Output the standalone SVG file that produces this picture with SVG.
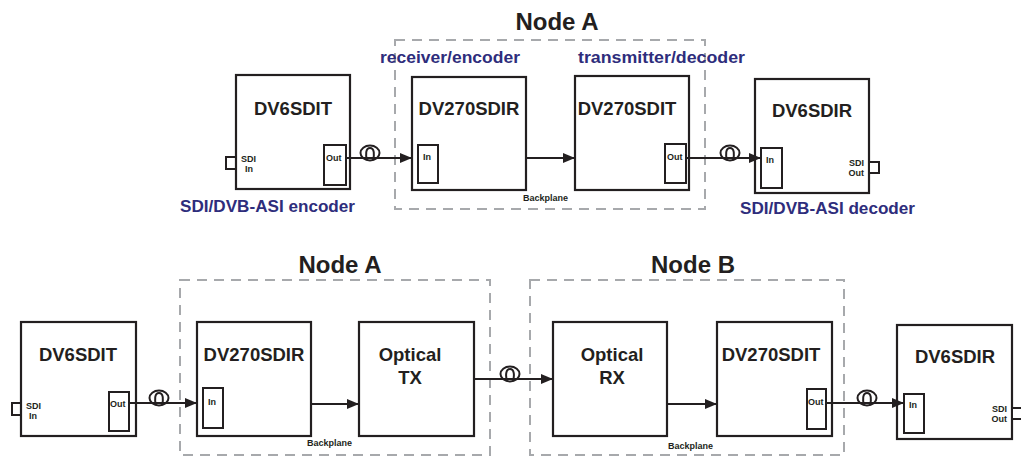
<svg xmlns="http://www.w3.org/2000/svg" width="1021" height="458" viewBox="0 0 1021 458">
<style>
.box{fill:#fff;stroke:#231f20;stroke-width:2.2}
.port{fill:#fff;stroke:#231f20;stroke-width:2}
.dash{fill:none;stroke:#a7a9ac;stroke-width:2;stroke-dasharray:10 7}
.ln{fill:none;stroke:#231f20;stroke-width:2.2}
.coil{fill:none;stroke:#231f20;stroke-width:2}
.t{font-family:"Liberation Sans",Arial,sans-serif;font-weight:bold;fill:#231f20}
.title{font-size:18.5px;text-anchor:middle}
.node{font-size:24px;text-anchor:middle}
.sm{font-size:9px}
.blue{font-family:"Liberation Sans",Arial,sans-serif;font-weight:bold;fill:#2e2d7c;font-size:17px}
</style>
<defs>
<marker id="ah" viewBox="0 0 12 10" refX="12" refY="5" markerWidth="12" markerHeight="10" markerUnits="userSpaceOnUse" orient="auto">
<path d="M0,0 L12,5 L0,10 Z" fill="#231f20"/>
</marker>
<g id="coilsym">
<ellipse class="coil" cx="0" cy="-6" rx="9.5" ry="7.5"/>
<path class="coil" d="M-3,1 C-4.5,-4 -4.5,-11 0,-11 C4.5,-11 4.5,-4 3,1"/>
</g>
</defs>

<!-- dashed groupings -->
<g id="groups">
<rect class="dash" x="395" y="40" width="310" height="169"/>
<rect class="dash" x="180" y="280" width="310" height="175"/>
<rect class="dash" x="530" y="280" width="314" height="175"/>
<text class="t node" x="557" y="30">Node A</text>
<text class="t node" x="340" y="273">Node A</text>
<text class="t node" x="693" y="273">Node B</text>
<text class="blue" x="380" y="63" textLength="140" lengthAdjust="spacingAndGlyphs">receiver/encoder</text>
<text class="blue" x="578" y="63" textLength="167" lengthAdjust="spacingAndGlyphs">transmitter/decoder</text>
<text class="blue" x="180" y="212" textLength="175" lengthAdjust="spacingAndGlyphs">SDI/DVB-ASI encoder</text>
<text class="blue" x="740" y="214" textLength="175" lengthAdjust="spacingAndGlyphs">SDI/DVB-ASI decoder</text>
</g>

<!-- top row -->
<g id="top-dv6sdit">
<rect class="port" x="226" y="157" width="10" height="12"/>
<rect class="box" x="236" y="75" width="114" height="114"/>
<text class="t title" x="293" y="115">DV6SDIT</text>
<text class="t sm" x="241" y="162">SDI</text>
<text class="t sm" x="245" y="172">In</text>
<rect class="port" x="324" y="145" width="22" height="40"/>
<text class="t sm" x="326" y="161">Out</text>
</g>
<g id="top-dv270sdir">
<rect class="box" x="412" y="77" width="114" height="113"/>
<text class="t title" x="469" y="115">DV270SDIR</text>
<rect class="port" x="418" y="145" width="20" height="38"/>
<text class="t sm" x="423" y="160">In</text>
</g>
<g id="top-dv270sdit">
<rect class="box" x="575" y="76" width="114" height="114"/>
<text class="t title" x="627" y="115">DV270SDIT</text>
<rect class="port" x="665" y="144" width="21" height="39"/>
<text class="t sm" x="667" y="160">Out</text>
</g>
<g id="top-dv6sdir">
<rect class="box" x="755" y="79" width="114" height="114"/>
<text class="t title" x="812" y="117">DV6SDIR</text>
<rect class="port" x="761" y="148" width="21" height="40"/>
<text class="t sm" x="766" y="163">In</text>
<text class="t sm" x="864" y="166" text-anchor="end">SDI</text>
<text class="t sm" x="864" y="176" text-anchor="end">Out</text>
<rect class="port" x="869" y="162" width="10" height="11"/>
</g>
<text class="t sm" x="523" y="201">Backplane</text>

<!-- bottom row -->
<g id="bot-dv6sdit">
<rect class="port" x="12" y="403" width="9" height="12"/>
<rect class="box" x="21" y="322" width="115" height="114"/>
<text class="t title" x="78" y="361">DV6SDIT</text>
<text class="t sm" x="26" y="409">SDI</text>
<text class="t sm" x="29" y="419">In</text>
<rect class="port" x="109" y="392" width="20" height="39"/>
<text class="t sm" x="110" y="407">Out</text>
</g>
<g id="bot-dv270sdir">
<rect class="box" x="197" y="322" width="114" height="114"/>
<text class="t title" x="254" y="361">DV270SDIR</text>
<rect class="port" x="203" y="388" width="20" height="40"/>
<text class="t sm" x="208" y="405">In</text>
</g>
<g id="bot-opticaltx">
<rect class="box" x="359" y="322" width="115" height="114"/>
<text class="t title" x="410" y="361">Optical</text>
<text class="t title" x="410" y="384">TX</text>
</g>
<g id="bot-opticalrx">
<rect class="box" x="553" y="322" width="114" height="114"/>
<text class="t title" x="612" y="361">Optical</text>
<text class="t title" x="612" y="384">RX</text>
</g>
<g id="bot-dv270sdit">
<rect class="box" x="717" y="322" width="115" height="114"/>
<text class="t title" x="771" y="361">DV270SDIT</text>
<rect class="port" x="807" y="389" width="19" height="40"/>
<text class="t sm" x="808" y="405">Out</text>
</g>
<g id="bot-dv6sdir">
<rect class="box" x="897" y="325" width="115" height="114"/>
<text class="t title" x="955" y="363">DV6SDIR</text>
<rect class="port" x="904" y="394" width="20" height="39"/>
<text class="t sm" x="909" y="408">In</text>
<text class="t sm" x="1007" y="412" text-anchor="end">SDI</text>
<text class="t sm" x="1007" y="422" text-anchor="end">Out</text>
<rect class="port" x="1012" y="408" width="10" height="11"/>
</g>
<text class="t sm" x="307" y="446">Backplane</text>
<text class="t sm" x="668" y="449">Backplane</text>

<!-- connectors -->
<g id="connectors">
<line class="ln" x1="346" y1="158" x2="412" y2="158" marker-end="url(#ah)"/>
<line class="ln" x1="526" y1="158" x2="575" y2="158" marker-end="url(#ah)"/>
<line class="ln" x1="686" y1="158" x2="761" y2="158" marker-end="url(#ah)"/>
<line class="ln" x1="129" y1="403" x2="197" y2="403" marker-end="url(#ah)"/>
<line class="ln" x1="311" y1="404" x2="359" y2="404" marker-end="url(#ah)"/>
<line class="ln" x1="474" y1="379" x2="553" y2="379" marker-end="url(#ah)"/>
<line class="ln" x1="667" y1="404" x2="717" y2="404" marker-end="url(#ah)"/>
<line class="ln" x1="826" y1="403" x2="904" y2="403" marker-end="url(#ah)"/>
<use href="#coilsym" x="370" y="159"/>
<use href="#coilsym" x="730" y="159"/>
<use href="#coilsym" x="159" y="404"/>
<use href="#coilsym" x="510" y="380"/>
<use href="#coilsym" x="867" y="404"/>
</g>
</svg>
